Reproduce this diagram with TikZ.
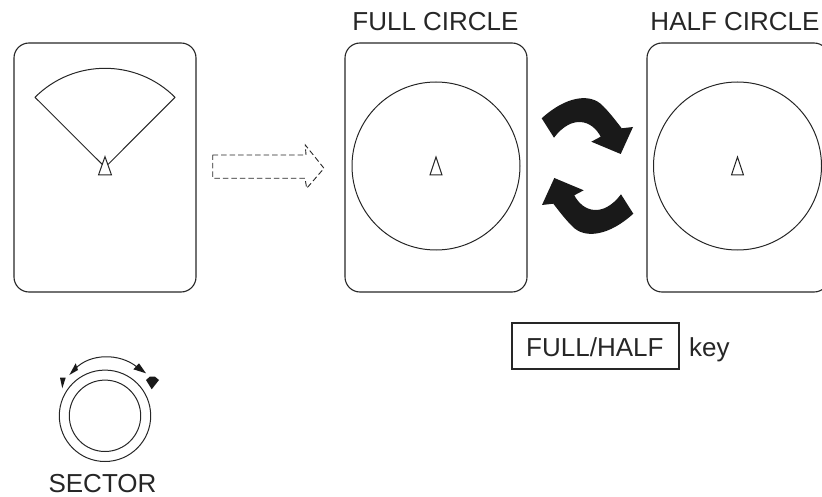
\documentclass[tikz,border=0pt]{standalone}
\usepackage{fontspec}
\setmainfont{Liberation Sans}
\tikzset{
  panel/.style={draw=black!85,line width=1.1pt,rounded corners=15pt},
  thin line/.style={draw=black!85,line width=1pt},
  label/.style={font=\fontsize{26}{30}\selectfont,text=black!85,inner sep=0pt,anchor=base},
  blackshape/.style={fill=black!90,draw=none},
}
\begin{document}
\begin{tikzpicture}[x=1pt,y=-1pt]
\useasboundingbox (0,0) rectangle (822,497);
% panels
\draw[panel] (14,43) rectangle (196,292);
\draw[panel] (345,43) rectangle (527,292);
\draw[panel] (647,43) rectangle (829,292);
% sector
\draw[thin line,line join=round] (102.3,164.5) -- (35,97.3) arc[start angle=225,end angle=315,radius=99] -- (108,164.5);
\draw[thin line,line join=miter] (105,156.7) -- (111.5,175) -- (98.5,175) -- cycle;
% circles
\draw[thin line] (436,166) circle[radius=84];
\draw[thin line] (737.5,166) circle[radius=84];
\draw[thin line] (436,157) -- (442,175) -- (430,175) -- cycle;
\draw[thin line] (737.5,157) -- (743.5,175) -- (731.5,175) -- cycle;
% dashed arrow
\draw[thin line,dash pattern=on 5.5pt off 3pt,line width=0.9pt] (212.7,155) -- (306,155) -- (305.3,145) -- (324,168.3) -- (306.7,188.3) -- (305,178.3) -- (212.7,178.3) -- cycle;
% curved arrows
\def\curvedarrow{(541.7,118.3) .. controls (565,97) and (590,92) .. (603,106) .. controls (610,113) and (616,121) .. (621.7,128.3) -- (633,127) -- (620.7,154) -- (591.3,141.7) -- (600.7,136.7) .. controls (592,120) and (572,114) .. (554,137.7) -- cycle}
\fill[blackshape] \curvedarrow;
\begin{scope}[shift={(1175,332)},x=-1pt,y=1pt]
\fill[blackshape] \curvedarrow;
\end{scope}
% knob
\draw[thin line] (105,415.8) circle[radius=45.7];
\draw[thin line] (105,415.8) circle[radius=35.7];
\draw[thin line] (75,369) .. controls (90,353) and (120,353) .. (137,367);
\fill[blackshape] (69.3,375) -- (75.7,363.3) -- (78,370) -- cycle;
\fill[blackshape] (146,373.3) -- (133.3,369.3) -- (139,363.3) -- cycle;
\fill[blackshape] (60,377.7) -- (65.7,377.7) -- (62.3,388.3) -- cycle;
\fill[blackshape] (146,380) -- (150,376.5) -- (155,376.7) -- (159,380) -- (151.7,389.3) -- cycle;
% labels
\node[label] (sector) at (102.5,492.5) {SECTOR};
\node[label] (full) at (435.5,30.7) {FULL CIRCLE};
\node[label] (half) at (735,30.7) {HALF CIRCLE};
\draw[panel,rounded corners=0pt] (512,323) rectangle (679,369);
\node[label,anchor=base west] (key) at (526,356) {FULL/HALF};
\node[label,anchor=base west] (keytext) at (689,356) {key};
\end{tikzpicture}
\end{document}
